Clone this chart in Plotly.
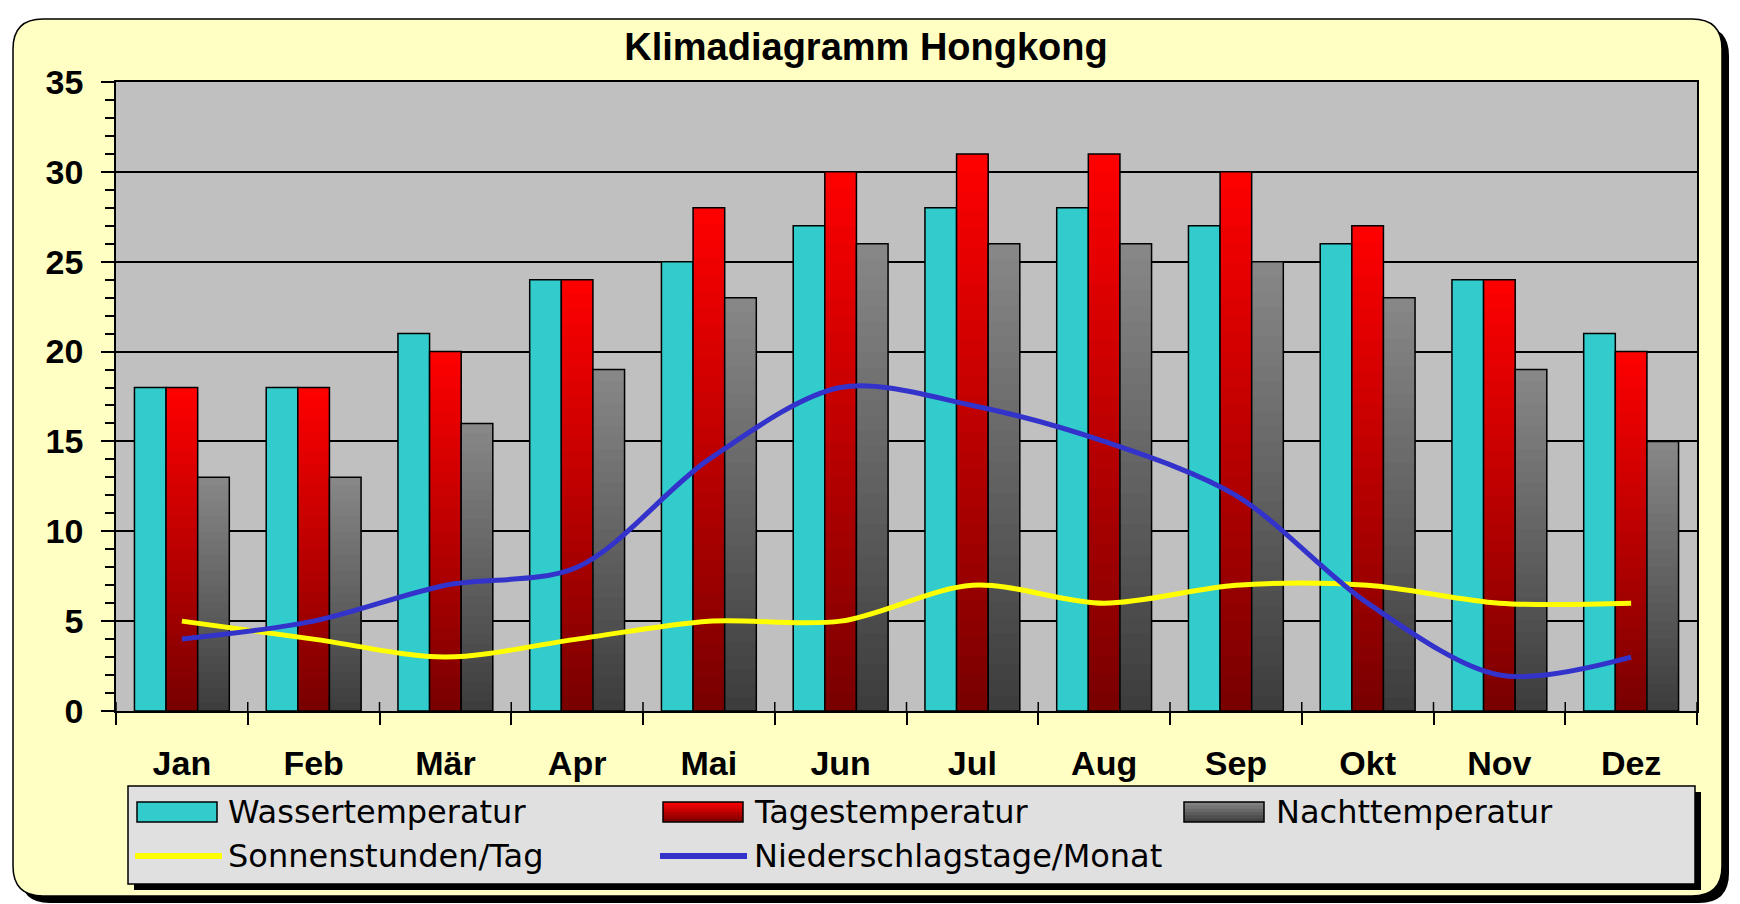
import plotly.graph_objects as go

# ---------------- data ----------------
months = ["Jan", "Feb", "Mär", "Apr", "Mai", "Jun", "Jul", "Aug", "Sep", "Okt", "Nov", "Dez"]
wassertemperatur = [18, 18, 21, 24, 25, 27, 28, 28, 27, 26, 24, 21]
tagestemperatur = [18, 18, 20, 24, 28, 30, 31, 31, 30, 27, 24, 20]
nachttemperatur = [13, 13, 16, 19, 23, 26, 26, 26, 25, 23, 19, 15]
sonnenstunden = [5, 4, 3, 4, 5, 5, 7, 6, 7, 7, 6, 6]
niederschlagstage = [4, 5, 7, 8, 14, 18, 17, 15, 12, 6, 2, 3]
y_tick_values = [0, 5, 10, 15, 20, 25, 30, 35]
title_text = "Klimadiagramm Hongkong"
series_names = ["Wassertemperatur", "Tagestemperatur", "Nachttemperatur",
                "Sonnenstunden/Tag", "Niederschlagstage/Monat"]

# ---------------- geometry (pixels) ----------------
FW, FH = 1740, 904
L, R, T, B = 116, 1697, 82, 711
PW, PH = R - L, B - T


def px(x):
    return (x - L) / PW


def py(y):
    return (B - y) / PH


def rounded_rect(x0, y0, x1, y1, r):
    rx, ry = r / PW, r / PH
    X0, X1 = px(x0), px(x1)
    Y0, Y1 = py(y0), py(y1)
    return (f"M{X0 + rx},{Y0} L{X1 - rx},{Y0} Q{X1},{Y0} {X1},{Y0 - ry} "
            f"L{X1},{Y1 + ry} Q{X1},{Y1} {X1 - rx},{Y1} L{X0 + rx},{Y1} "
            f"Q{X0},{Y1} {X0},{Y1 + ry} L{X0},{Y0 - ry} Q{X0},{Y0} {X0 + rx},{Y0} Z")


def lerp(c1, c2, t):
    return "#%02x%02x%02x" % tuple(round(a + (b - a) * t) for a, b in zip(c1, c2))


CYAN = "#33CCCC"
RED_TOP, RED_BOT = (255, 0, 0), (120, 0, 0)
GRAY_TOP, GRAY_BOT = (136, 136, 136), (60, 60, 60)
YELLOW = "#FFFF00"
BLUE = "#3333CC"

BW = 0.24
OFFS = [-0.36, -0.12, 0.12]

fig = go.Figure()

fig.add_bar(x=months, y=wassertemperatur, name=series_names[0], offset=OFFS[0], width=BW,
            marker=dict(color=CYAN, line=dict(color="black", width=1.5)))


def gradient_bars(vals, top, bot, off, name):
    N = 30
    for k in range(N):
        frac = (N - k) / N
        mid = (N - k - 0.5) / N
        fig.add_bar(x=months, y=[v * frac for v in vals], offset=off, width=BW,
                    marker=dict(color=lerp(bot, top, mid), line=dict(width=0)),
                    showlegend=False, hoverinfo="skip")
    fig.add_bar(x=months, y=vals, name=name, offset=off, width=BW,
                marker=dict(color="rgba(0,0,0,0)", line=dict(color="black", width=1.5)))


gradient_bars(tagestemperatur, RED_TOP, RED_BOT, OFFS[1], series_names[1])
gradient_bars(nachttemperatur, GRAY_TOP, GRAY_BOT, OFFS[2], series_names[2])

fig.add_scatter(x=months, y=sonnenstunden, name=series_names[3], mode="lines",
                line=dict(color=YELLOW, width=5, shape="spline", smoothing=0.9))
fig.add_scatter(x=months, y=niederschlagstage, name=series_names[4], mode="lines",
                line=dict(color=BLUE, width=5, shape="spline", smoothing=0.9))

# ---------------- decorations ----------------
shapes = []
shapes.append(dict(type="path", xref="paper", yref="paper", layer="below",
                   path=rounded_rect(20, 26, 1729, 903, 30), fillcolor="black", line=dict(width=0)))
shapes.append(dict(type="path", xref="paper", yref="paper", layer="below",
                   path=rounded_rect(13, 19, 1722, 896, 30), fillcolor="#FFFFC4",
                   line=dict(color="black", width=1.5)))
shapes.append(dict(type="rect", xref="paper", yref="paper", layer="below",
                   x0=0, x1=1, y0=0, y1=1, fillcolor="#C0C0C0", line=dict(width=0)))
shapes.append(dict(type="rect", xref="paper", yref="paper", layer="below",
                   x0=px(134), x1=px(1701), y0=py(792), y1=py(890), fillcolor="black",
                   line=dict(width=0)))
shapes.append(dict(type="rect", xref="paper", yref="paper", layer="below",
                   x0=px(128), x1=px(1695), y0=py(786), y1=py(884), fillcolor="#E0E0E0",
                   line=dict(color="black", width=1.5)))
for i in range(len(months) + 1):
    shapes.append(dict(type="line", xref="x", yref="y", layer="above",
                       x0=i - 0.5, x1=i - 0.5, y0=0, y1=0.5, line=dict(color="black", width=1.5)))


def swatch_solid(x0, color):
    shapes.append(dict(type="rect", xref="paper", yref="paper", layer="above",
                       x0=px(x0), x1=px(x0 + 80), y0=py(802), y1=py(822), fillcolor=color,
                       line=dict(color="black", width=1.5)))


def swatch_grad(x0, top, bot):
    n = 6
    for k in range(n):
        ya = 802 + 20 * k / n
        yb = min(822, 802 + 20 * (k + 1) / n + 1)
        shapes.append(dict(type="rect", xref="paper", yref="paper", layer="above",
                           x0=px(x0), x1=px(x0 + 80), y0=py(ya), y1=py(yb),
                           fillcolor=lerp(top, bot, (k + 0.5) / n), line=dict(width=0)))
    shapes.append(dict(type="rect", xref="paper", yref="paper", layer="above",
                       x0=px(x0), x1=px(x0 + 80), y0=py(802), y1=py(822),
                       fillcolor="rgba(0,0,0,0)", line=dict(color="black", width=1.5)))


swatch_solid(137, CYAN)
swatch_grad(663, RED_TOP, RED_BOT)
swatch_grad(1184, GRAY_TOP, GRAY_BOT)
shapes.append(dict(type="line", xref="paper", yref="paper", layer="above",
                   x0=px(135), x1=px(222), y0=py(856), y1=py(856), line=dict(color=YELLOW, width=6)))
shapes.append(dict(type="line", xref="paper", yref="paper", layer="above",
                   x0=px(660), x1=px(747), y0=py(856), y1=py(856), line=dict(color=BLUE, width=6)))

annotations = []
leg_font = dict(family="DejaVu Sans", size=32, color="black")
for name, xx, yy in [(series_names[0], 226, 812), (series_names[1], 752, 812),
                     (series_names[2], 1274, 812), (series_names[3], 226, 856),
                     (series_names[4], 752, 856)]:
    annotations.append(dict(text=name, xref="paper", yref="paper", x=px(xx), y=py(yy),
                            xanchor="left", yanchor="middle", showarrow=False, font=leg_font))

axis_font = dict(family="Liberation Sans", size=34, color="black", weight="bold")

fig.update_layout(
    width=FW, height=FH,
    margin=dict(l=L, r=FW - R, t=T, b=FH - B, pad=0),
    paper_bgcolor="white",
    plot_bgcolor="rgba(0,0,0,0)",
    barmode="overlay",
    showlegend=False,
    title=dict(text=title_text, x=866 / FW, xref="container", xanchor="center",
               y=1 - 47 / FH, yref="container", yanchor="middle",
               font=dict(family="Liberation Sans", size=38, color="black", weight="bold")),
    xaxis=dict(type="category", categoryorder="array", categoryarray=months,
               range=[-0.5, len(months) - 0.5], tickson="boundaries",
               ticks="outside", ticklen=12, tickwidth=1.5, tickcolor="black",
               showline=True, linecolor="black", linewidth=1.5, mirror=True,
               showgrid=False, tickfont=axis_font, ticklabelstandoff=21),
    yaxis=dict(range=[0, 35], tickvals=y_tick_values, ticks="outside", ticklen=13,
               tickwidth=1.5, tickcolor="black", showline=True, linecolor="black",
               linewidth=1.5, mirror=True, showgrid=True, gridcolor="black", gridwidth=1.5,
               zeroline=False, tickfont=axis_font, ticklabelstandoff=11,
               minor=dict(dtick=1, ticks="outside", ticklen=9, tickwidth=1.5,
                          tickcolor="black", showgrid=False)),
    shapes=shapes,
    annotations=annotations,
)

fig.write_html("out.html", config={"displayModeBar": False},
               post_script="document.body.style.margin='0';document.body.style.overflow='hidden';")
